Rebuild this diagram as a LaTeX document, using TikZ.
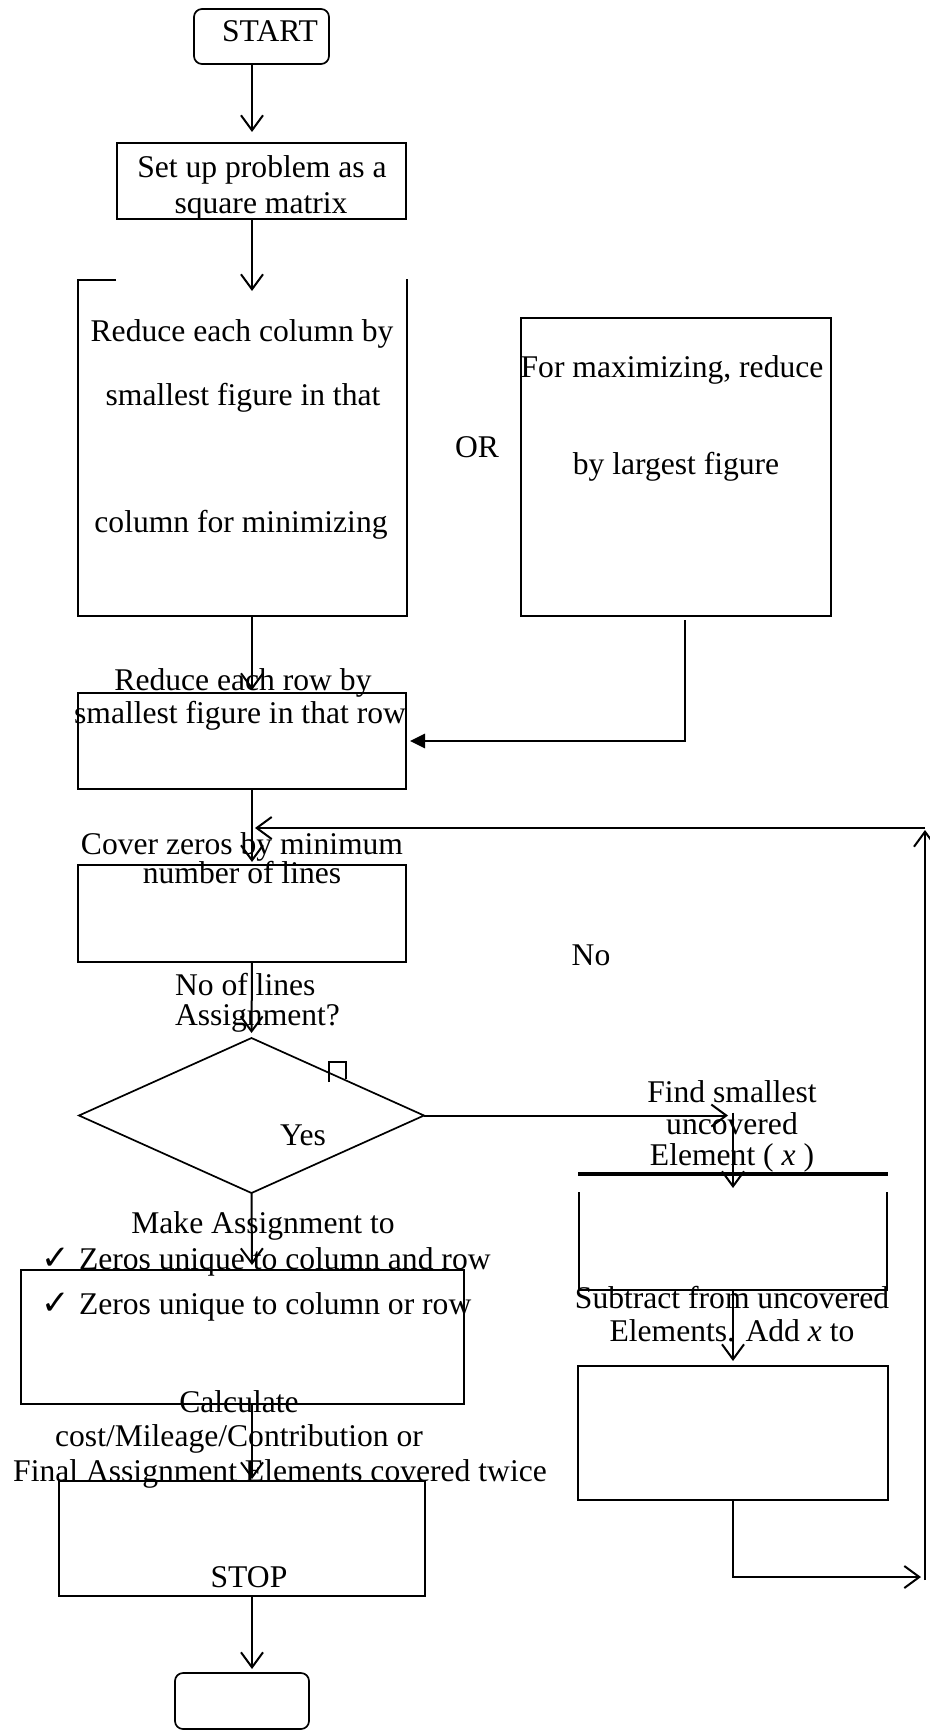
\documentclass[tikz,border=0pt]{standalone}
\usepackage{fontspec}
\setmainfont{Liberation Serif}
\newfontfamily\chkfont{DejaVu Sans}
\usetikzlibrary{arrows.meta,calc}
\newcommand{\fsz}{\fontsize{31.6}{33}\selectfont}
\begin{document}
\begin{tikzpicture}[x=1pt,y=-1pt,
  boxshape/.style={draw=black, line width=1.7pt, inner sep=0pt, outer sep=0pt},
  ghost/.style={inner sep=0pt, outer sep=0pt},
  plain/.style={line width=1.7pt},
  lbl/.style={inner sep=0pt, outer sep=0pt, anchor=base, font=\fsz},
  lblw/.style={lbl, anchor=base west},
  chk/.style={lblw, font=\chkfont\fontsize{34}{34}\selectfont},
  arr/.style={line width=2pt, -{Straight Barb[length=15pt,width=22pt]}},
  farr/.style={line width=2.8pt, -{Triangle[length=15pt,width=14pt]}}
]
\useasboundingbox (0,0) rectangle (929,1731);
\coordinate (spine) at (252,0);

% boxes
\node[boxshape, rounded corners=8pt, minimum width=135pt, minimum height=55pt] (start) at (261.5,36.5) {};
\node[boxshape, minimum width=289pt, minimum height=76pt] (setup) at (261.5,181) {};
\node[ghost, minimum width=329pt, minimum height=336pt] (col) at (242.5,448) {};
\node[boxshape, minimum width=310pt, minimum height=298pt] (max) at (676,467) {};
\node[boxshape, minimum width=328pt, minimum height=96pt] (row) at (242,741) {};
\node[boxshape, minimum width=328pt, minimum height=97pt] (cover) at (242,913.5) {};
\node[ghost, minimum width=345pt, minimum height=155pt] (dec) at (251.5,1115.5) {};
\node[ghost, minimum width=310pt, minimum height=116pt] (find) at (733,1232) {};
\node[boxshape, minimum width=310pt, minimum height=134pt] (sub) at (733,1433) {};
\node[boxshape, minimum width=443pt, minimum height=134pt] (assign) at (242.5,1337) {};
\node[boxshape, minimum width=366pt, minimum height=115pt] (stop) at (242,1538.5) {};
\node[boxshape, rounded corners=8pt, minimum width=134pt, minimum height=56pt] (term) at (242,1701) {};

% irregular outlines
\draw[plain] ($(col.north west)+(38,0)$) -- (col.north west) -- (col.south west) -- (col.south east) -- ($(col.north east)+(0,-1)$);
\draw[plain] (dec.north) -- (dec.east) -- (dec.south) -- (dec.west) -- cycle;
\draw[line width=3.5pt] (find.north west) -- (find.north east);
\draw[plain] ($(find.north west)+(1,18)$) -- ($(find.south west)+(1,0)$) -- ($(find.south east)+(-1,0)$) -- ($(find.north east)+(-1,18)$);
\draw[line width=1.2pt] (329,1082) -- (329,1062) -- (346,1062) -- (346,1079);

% connectors
\draw[arr, shorten >=11pt] (start.south -| spine) -- (setup.north -| spine);
\draw[arr, shorten >=-11pt] (setup.south -| spine) -- (col.north -| spine);
\draw[arr, shorten >=3pt] (col.south -| spine) -- (row.north -| spine);
\draw[arr, shorten >=3pt] (row.south -| spine) -- (cover.north -| spine);
\draw[arr, shorten >=5pt] (cover.south -| spine) -- (dec.north);
\draw[arr, shorten >=5pt] (dec.south) -- (assign.north -| spine);
\draw[arr, shorten >=2pt] (assign.south -| spine) -- (stop.north -| spine);
\draw[arr, shorten >=4pt] (stop.south -| spine) -- (term.north -| spine);
\draw[farr, shorten >=4pt] ($(max.south)+(9,4)$) |- (row.east);

\coordinate (fx) at (dec.east -| find.north);
\coordinate (lb) at (925,1577);
\coordinate (lt) at (925,828);
\draw[arr, shorten >=5pt] (dec.east) -- (fx);
\draw[arr, shorten >=-14pt] ($(fx)+(0,-3)$) -- (find.north);
\draw[arr, shorten >=5pt] (find.south) -- (sub.north);
\draw[arr, shorten >=4pt] (sub.south) |- (lb);
\draw[arr, shorten >=2pt] ($(lb)+(0,3)$) -- (lt);
\draw[arr, shorten >=3pt] (lt) -- (lt -| spine);

% texts
\node[lbl] (tstart) at (270,42) {START};
\node[lbl] (tset1) at (262,178) {Set up problem as a};
\node[lbl] (tset2) at (261,213) {square matrix};
\node[lbl] (tcol1) at (242,341) {Reduce each column by};
\node[lbl] (tcol2) at (243,405) {smallest figure in that};
\node[lbl] (tcol3) at (241,532) {column for minimizing};
\node[lbl] (tor) at (477,457) {OR};
\node[lbl] (tmax1) at (672,377) {For maximizing, reduce};
\node[lbl] (tmax2) at (676,474) {by largest figure};
\node[lbl] (trow1) at (243,690) {Reduce each row by};
\node[lbl] (trow2) at (240,723) {smallest figure in that row};
\node[lbl] (tcov1) at (242,854) {Cover zeros by minimum};
\node[lbl] (tcov2) at (242,883) {number of lines};
\node[lblw] (tq1) at (175,995) {No of lines};
\node[lblw] (tq2) at (175,1025) {Assignment?};
\node[lbl] (tyes) at (303,1145) {Yes};
\node[lbl] (tno) at (591,965) {No};
\node[lbl] (tf1) at (732,1102) {Find smallest};
\node[lbl] (tf2) at (732,1134) {uncovered};
\node[lbl] (tf3) at (732,1165) {Element ( \textit{x} )};
\node[lbl] (ts1) at (732,1308) {Subtract from uncovered};
\node[lbl] (ts2) at (732,1341) {Elements. Add \textit{x} to};
\node[lbl] (ta0) at (263,1233) {Make Assignment to};
\node[chk] (chk1) at (41,1269) {✓};
\node[lblw] (ta1) at (79,1269) {Zeros unique to column and row};
\node[chk] (chk2) at (41,1314) {✓};
\node[lblw] (ta2) at (79,1314) {Zeros unique to column or row};
\node[lbl] (tc1) at (239,1412) {Calculate};
\node[lbl] (tc2) at (239,1446) {cost/Mileage/Contribution or};
\node[lbl] (tc3) at (280,1481) {Final Assignment Elements covered twice};
\node[lbl] (tstop) at (249,1587) {STOP};
\end{tikzpicture}
\end{document}
